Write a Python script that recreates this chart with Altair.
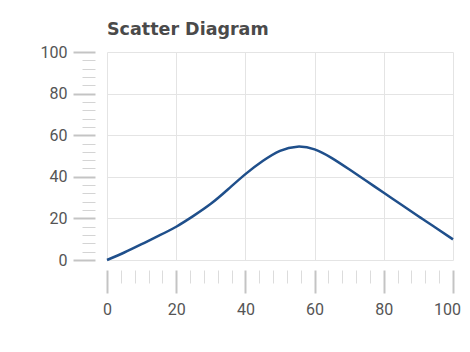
import altair as alt
import pandas as pd

x_vals = [0, 5, 10, 15, 20, 25, 30, 35, 40, 45, 50, 55, 60, 65, 70, 75, 80, 85, 90, 95, 100]
y_vals = [0, 3.6, 7.6, 11.7, 16, 21.2, 27, 34, 41.3, 47.6, 52.5, 54.5, 53.2, 49, 43.6, 38, 32.3, 26.7, 21, 15.5, 9.9]
major_ticks = [0, 20, 40, 60, 80, 100]
minor_ticks = [v for v in range(0, 101, 4) if v % 20 != 0]
last_tick = [100]

df = pd.DataFrame({"x": x_vals, "y": y_vals})

FONT = "Roboto"

major_x = alt.Axis(values=major_ticks, orient="bottom", offset=10, tickSize=23, tickWidth=2,
                   tickColor="#c4c4c4", labelPadding=8, labelFontSize=16, labelColor="#555555",
                   labelFont=FONT, domain=False, grid=True, gridColor="#e4e4e4", title=None,
                   labelFlush=False, labelExpr="datum.value == 100 ? '' : datum.label")
last_x = alt.Axis(values=last_tick, orient="bottom", offset=10, tickSize=23, ticks=True,
                  tickOpacity=0, labelPadding=8, labelFontSize=16, labelColor="#555555",
                  labelFont=FONT, labelOffset=-6, domain=False, grid=False, title=None,
                  labelFlush=False)
major_y = alt.Axis(values=major_ticks, orient="left", offset=12, tickSize=22, tickWidth=2,
                   tickColor="#c4c4c4", labelPadding=6, labelFontSize=16, labelColor="#555555",
                   labelFont=FONT, domain=False, grid=True, gridColor="#e4e4e4", title=None,
                   labelFlush=False)
minor_x = alt.Axis(values=minor_ticks, orient="bottom", offset=10, tickSize=13, tickWidth=1,
                   tickColor="#dcdcdc", labels=False, domain=False, grid=False, title=None)
minor_y = alt.Axis(values=minor_ticks, orient="left", offset=12, tickSize=13, tickWidth=1,
                   tickColor="#d4d4d4", labels=False, domain=False, grid=False, title=None)
blank_y = alt.Axis(values=[], orient="left", labels=False, ticks=False, domain=False, grid=False, title=None)

scale = alt.Scale(domain=[0, 100], nice=False, zero=False)

line = alt.Chart(df).mark_line(color="#1f4f8b", strokeWidth=2.5, interpolate="natural").encode(
    x=alt.X("x:Q", scale=scale, axis=major_x),
    y=alt.Y("y:Q", scale=scale, axis=major_y),
)
minor = alt.Chart(df).mark_point(opacity=0).encode(
    x=alt.X("x:Q", scale=scale, axis=minor_x),
    y=alt.Y("y:Q", scale=scale, axis=minor_y),
)
last = alt.Chart(df).mark_point(opacity=0).encode(
    x=alt.X("x:Q", scale=scale, axis=last_x),
    y=alt.Y("y:Q", scale=scale, axis=blank_y),
)

chart = alt.layer(minor, last, line).resolve_axis(x="independent", y="independent").properties(
    width=346,
    height=208,
    title=alt.TitleParams("Scatter Diagram", anchor="start", frame="group", font="DejaVu Sans",
                          fontSize=17.5, fontWeight="bold", color="#4a4a4a", offset=6),
    autosize=alt.AutoSizeParams(type="none"),
    padding={"left": 99, "top": 44, "right": 9, "bottom": 60},
).configure_view(stroke=None)

chart.save("out.html", embed_options={"renderer": "svg", "actions": False})
